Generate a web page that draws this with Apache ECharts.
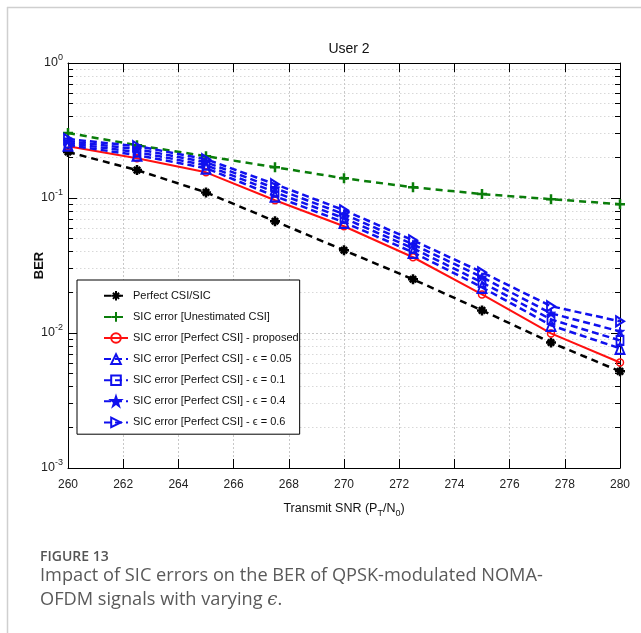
<!DOCTYPE html>
<html><head><meta charset="utf-8">
<script src="https://cdn.jsdelivr.net/npm/echarts@6/dist/echarts.min.js"></script>
<style>html,body{margin:0;padding:0;background:#fff}#c{width:641px;height:633px}</style>
</head><body><div id="c"></div>
<script>
// ---- data ----
const snr = [260, 262.5, 265, 267.5, 270, 272.5, 275, 277.5, 280];
const perfectCsiSic = [0.219, 0.161, 0.110, 0.0673, 0.041, 0.025, 0.0147, 0.0085, 0.0052];
const unestimatedCsi = [0.303, 0.246, 0.204, 0.169, 0.140, 0.120, 0.107, 0.098, 0.090];
const proposed = [0.242, 0.197, 0.155, 0.0963, 0.0618, 0.0364, 0.0193, 0.00993, 0.00605];
const eps005 = [0.2464, 0.2077, 0.1664, 0.1031, 0.0661, 0.0396, 0.0218, 0.0114, 0.00769];
const eps01 = [0.2549, 0.2187, 0.1751, 0.1104, 0.0708, 0.0424, 0.0237, 0.0126, 0.00881];
const eps04 = [0.2638, 0.2301, 0.1843, 0.1182, 0.0758, 0.0454, 0.0259, 0.0140, 0.01027];
const eps06 = [0.2730, 0.2422, 0.1940, 0.1266, 0.0812, 0.0486, 0.0282, 0.0158, 0.0122];
const seriesNames = [
  'Perfect CSI/SIC',
  'SIC error [Unestimated CSI]',
  'SIC error [Perfect CSI] - proposed',
  'SIC error [Perfect CSI] - \u03F5 = 0.05',
  'SIC error [Perfect CSI] - \u03F5 = 0.1',
  'SIC error [Perfect CSI] - \u03F5 = 0.4',
  'SIC error [Perfect CSI] - \u03F5 = 0.6'
];
const yMinorTicks = [0.002,0.003,0.004,0.005,0.006,0.007,0.008,0.009,
                     0.02,0.03,0.04,0.05,0.06,0.07,0.08,0.09,
                     0.2,0.3,0.4,0.5,0.6,0.7,0.8,0.9];
const yMajorTicks = [0.001, 0.01, 0.1, 1];

// ---- styling ----
const SANS = "'Liberation Sans', Arial, sans-serif";
const BLUE = '#1010ee';
const pair = (ys) => snr.map((x, i) => [x, ys[i]]);
const P_AST = 'path://M5,0L5,10M0,5L10,5M1.8,1.8L8.2,8.2M8.2,1.8L1.8,8.2';
const P_PLUS = 'path://M5,0L5,10M0,5L10,5';
const P_STAR = 'path://M5,0L6.2,3.6L10,3.6L6.9,5.9L8.1,9.6L5,7.3L1.9,9.6L3.1,5.9L0,3.6L3.8,3.6Z';
const P_RTRI = 'path://M0,0L10,5L0,10Z';

function mk(name, ys, color, dash, width, symbol, size, fill, bw) {
  return {
    name, type: 'line', data: pair(ys), xAxisIndex: 0, yAxisIndex: 0,
    symbol, symbolSize: size, showSymbol: true,
    lineStyle: { color, width, type: dash },
    itemStyle: { color: fill, borderColor: color, borderWidth: bw },
    emphasis: { disabled: true }, animation: false
  };
}

const chart = echarts.init(document.getElementById('c'), null, { renderer: 'canvas' });
const labelFont = { fontFamily: SANS, fontSize: 12, color: '#222' };
chart.setOption({
  animation: false,
  backgroundColor: '#fff',
  title: {
    text: 'User 2', left: 344, top: 37, textAlign: 'center',
    textStyle: { fontFamily: SANS, fontSize: 14, fontWeight: 'normal', color: '#111' }
  },
  grid: { left: 68, right: 21, top: 63, bottom: 165, containLabel: false },
  legend: {
    orient: 'vertical', left: 77, top: 280,
    itemGap: 9.5, itemWidth: 24, itemHeight: 12,
    padding: [10, 1, 6, 26],
    backgroundColor: '#fff', borderColor: '#000', borderWidth: 1, borderRadius: 0,
    textStyle: { fontFamily: SANS, fontSize: 11, color: '#111' },
    data: seriesNames
  },
  xAxis: [{
    type: 'value', min: 260, max: 280, interval: 2, position: 'bottom',
    axisLine: { show: true, lineStyle: { color: '#000', width: 1 } },
    axisTick: { inside: true, length: 9, lineStyle: { color: '#000' } },
    axisLabel: Object.assign({ margin: 11 }, labelFont),
    splitLine: { show: true, lineStyle: { type: [2, 2], color: '#c8c8c8', width: 1 } },
    name: '{n|Transmit SNR (P}{sub|T}{n|/N}{sub|0}{n|)}',
    nameLocation: 'middle', nameGap: 31, nameMoveOverlap: false,
    nameTextStyle: {
      rich: {
        n: { fontFamily: SANS, fontSize: 12.5, color: '#111' },
        sub: { fontFamily: SANS, fontSize: 9, color: '#111', padding: [10, 0, 0, 0] }
      }
    }
  }, {
    type: 'value', min: 260, max: 280, interval: 2, position: 'top',
    axisLine: { show: true, lineStyle: { color: '#000', width: 1 } },
    axisTick: { inside: true, length: 9, lineStyle: { color: '#000' } },
    axisLabel: { show: false }, splitLine: { show: false }
  }],
  yAxis: [{
    type: 'log', logBase: 10, min: 0.001, max: 1, position: 'left',
    axisLine: { show: true, lineStyle: { color: '#000', width: 1 } },
    axisTick: { inside: true, length: 9, lineStyle: { color: '#000' }, customValues: yMajorTicks },
    axisLabel: {
      customValues: yMajorTicks, margin: 5,
      formatter: (v) => '{b|10}{s|' + Math.round(Math.log10(v)) + '}',
      rich: {
        b: { fontFamily: SANS, fontSize: 12.5, color: '#222' },
        s: { fontFamily: SANS, fontSize: 9, color: '#222', padding: [0, 0, 10, 0] }
      }
    },
    splitLine: { show: true, lineStyle: { type: [2, 2], color: '#c8c8c8', width: 1 } },
    name: 'BER', nameLocation: 'middle', nameGap: 22, nameMoveOverlap: false,
    nameTextStyle: { fontFamily: SANS, fontSize: 13, fontWeight: 'bold', color: '#111' }
  }, {
    type: 'log', logBase: 10, min: 0.001, max: 1, position: 'left',
    axisLine: { show: false },
    axisTick: { inside: true, length: 5, lineStyle: { color: '#000' }, customValues: yMinorTicks },
    axisLabel: { show: false },
    splitLine: { show: true, lineStyle: { type: [1.5, 2.5], color: '#d8d8d8', width: 1 } }
  }, {
    type: 'log', logBase: 10, min: 0.001, max: 1, position: 'right',
    axisLine: { show: true, lineStyle: { color: '#000', width: 1 } },
    axisTick: { inside: true, length: 9, lineStyle: { color: '#000' }, customValues: yMajorTicks },
    axisLabel: { show: false }, splitLine: { show: false }
  }, {
    type: 'log', logBase: 10, min: 0.001, max: 1, position: 'right',
    axisLine: { show: false },
    axisTick: { inside: true, length: 5, lineStyle: { color: '#000' }, customValues: yMinorTicks },
    axisLabel: { show: false }, splitLine: { show: false }
  }],
  series: [
    mk(seriesNames[0], perfectCsiSic, '#000', [7, 5], 2.5, P_AST, 10, '#000', 2.5),
    mk(seriesNames[1], unestimatedCsi, '#0a7d0a', [7, 5], 2.5, P_PLUS, 10, '#0a7d0a', 2.5),
    mk(seriesNames[2], proposed, '#ff1010', 'solid', 2, 'circle', 7, 'rgba(255,255,255,0)', 1.5),
    mk(seriesNames[3], eps005, BLUE, [7, 4], 2.5, 'triangle', [9, 11], 'rgba(255,255,255,0)', 2),
    mk(seriesNames[4], eps01, BLUE, [7, 4], 2.5, 'rect', [7, 9], 'rgba(255,255,255,0)', 2),
    mk(seriesNames[5], eps04, BLUE, [7, 4], 2.5, P_STAR, 9, BLUE, 1),
    mk(seriesNames[6], eps06, BLUE, [7, 4], 2.5, P_RTRI, [8, 10], 'rgba(255,255,255,0)', 2)
  ],
  graphic: [
    { type: 'line', shape: { x1: 7.5, y1: 7, x2: 7.5, y2: 633 }, style: { stroke: '#cfcfcf', lineWidth: 1.5 }, silent: true },
    { type: 'line', shape: { x1: 7, y1: 7.5, x2: 641, y2: 7.5 }, style: { stroke: '#cfcfcf', lineWidth: 1.5 }, silent: true },
    { type: 'text', left: 40, top: 550, style: { text: 'FIGURE 13', font: "600 14px 'Open Sans', sans-serif", fill: '#555' }, silent: true },
    { type: 'text', left: 40, top: 567, style: { text: 'Impact of SIC errors on the BER of QPSK-modulated NOMA-', font: "18.2px 'Open Sans', sans-serif", fill: '#5a5a5a' }, silent: true },
    { type: 'text', left: 40, top: 591, style: { rich: { n: { font: "18.2px 'Open Sans', sans-serif", fill: '#5a5a5a' }, i: { font: "italic 18.2px 'DejaVu Serif', serif", fill: '#5a5a5a' } }, text: '{n|OFDM signals with varying }{i|\u03F5}{n|.}' }, silent: true }
  ]
});
</script>
</body></html>
